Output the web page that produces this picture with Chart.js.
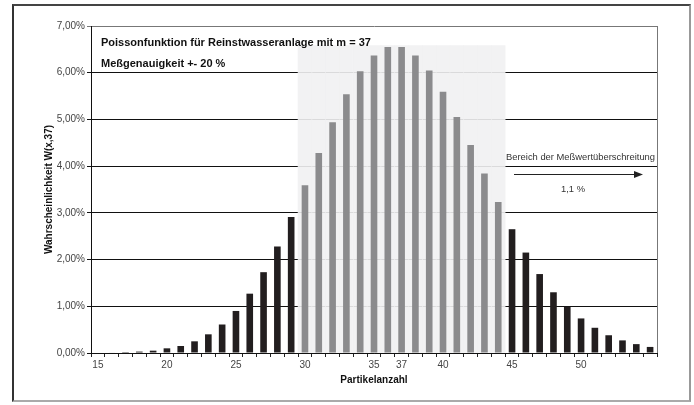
<!DOCTYPE html>
<html>
<head>
<meta charset="utf-8">
<script src="https://cdn.jsdelivr.net/npm/chart.js@4/dist/chart.umd.min.js"></script>
<style>
  body { margin: 0; background: #fff; }
  #wrap { position: relative; width: 694px; height: 405px; }
  #frame {
    position: absolute; left: 12px; top: 4px; width: 675px; height: 394px;
    border-left: 2px solid #333; border-top: 2px solid #444;
    border-right: 2px solid #999; border-bottom: 2px solid #aaa;
  }
  canvas { position: absolute; left: 0; top: 0; }
</style>
</head>
<body>
<div id="wrap">
  <div id="frame"></div>
  <canvas id="chart" width="694" height="405"></canvas>
</div>
<script>
// Partikelanzahl x
const categories = [15, 16, 17, 18, 19, 20, 21, 22, 23, 24, 25, 26, 27, 28, 29, 30, 31, 32, 33, 34,
  35, 36, 37, 38, 39, 40, 41, 42, 43, 44, 45, 46, 47, 48, 49, 50, 51, 52, 53, 54, 55];
// W(x,37) in %
const probabilities = [0.00, 0.01, 0.02, 0.03, 0.05, 0.10, 0.15, 0.25, 0.40, 0.61, 0.90, 1.27, 1.73, 2.28, 2.91,
  3.59, 4.28, 4.94, 5.54, 6.03, 6.37, 6.55, 6.55, 6.37, 6.05, 5.59, 5.05, 4.45, 3.84, 3.23,
  2.65, 2.15, 1.69, 1.30, 0.99, 0.74, 0.54, 0.38, 0.27, 0.19, 0.13];
// Meßgenauigkeit +- 20 %: Bereich 30 .. 44
const rangeFrom = 30;
const rangeTo = 44;
const rangeHeight = 6.58;
const xTickLabels = [15, 20, 25, 30, 35, 37, 40, 45, 50];
const yTicks = [0, 1, 2, 3, 4, 5, 6, 7];

const inRange = (x) => x >= rangeFrom && x <= rangeTo;
const rangeData = categories.map(x => inRange(x) ? rangeHeight : null);
const barColors = categories.map(x => inRange(x) ? '#8b8b8d' : '#221e1f');

const fontFamily = 'Arial, "Liberation Sans", sans-serif';

const textPlugin = {
  id: 'texte',
  afterDraw(chart) {
    const ctx = chart.ctx;
    const a = chart.chartArea;
    ctx.save();
    // rechter Rahmen des Diagrammbereichs
    ctx.strokeStyle = '#777';
    ctx.lineWidth = 1;
    ctx.beginPath();
    ctx.moveTo(Math.round(a.right) + 0.5, a.top);
    ctx.lineTo(Math.round(a.right) + 0.5, a.bottom);
    ctx.stroke();

    ctx.fillStyle = '#111';
    ctx.font = 'bold 11px ' + fontFamily;
    ctx.textBaseline = 'middle';
    ctx.textAlign = 'left';
    ctx.fillText('Poissonfunktion für Reinstwasseranlage mit m = 37', a.left + 10, a.top + 17);
    ctx.fillText('Meßgenauigkeit +- 20 %', a.left + 10, a.top + 38);

    ctx.fillStyle = '#333';
    ctx.font = '9.4px ' + fontFamily;
    ctx.fillText('Bereich der Meßwertüberschreitung', 506, 157);
    ctx.textAlign = 'center';
    ctx.fillText('1,1 %', 573, 189);

    // Pfeil
    ctx.strokeStyle = '#222';
    ctx.beginPath();
    ctx.moveTo(514, 174.5);
    ctx.lineTo(636, 174.5);
    ctx.stroke();
    ctx.fillStyle = '#222';
    ctx.beginPath();
    ctx.moveTo(643, 174.5);
    ctx.lineTo(634, 171);
    ctx.lineTo(634, 178);
    ctx.closePath();
    ctx.fill();
    ctx.restore();
  }
};

new Chart(document.getElementById('chart').getContext('2d'), {
  type: 'bar',
  data: {
    labels: categories,
    datasets: [
      {
        label: 'W(x,37)',
        data: probabilities,
        backgroundColor: barColors,
        borderWidth: 0,
        barPercentage: 0.48,
        categoryPercentage: 1,
        order: 1
      },
      {
        label: 'Bereich',
        data: rangeData,
        backgroundColor: 'rgba(241,241,242,0.9)',
        borderWidth: 0,
        barPercentage: 1,
        categoryPercentage: 1,
        order: 2
      }
    ]
  },
  options: {
    responsive: false,
    animation: false,
    layout: { padding: { left: 38, right: 37, top: 26, bottom: 0 } },
    plugins: { legend: { display: false }, tooltip: { enabled: false } },
    datasets: { bar: { grouped: false } },
    scales: {
      x: {
        offset: true,
        afterFit: (scale) => { scale.height = 52; },
        grid: { offset: true, drawOnChartArea: false, tickLength: 4, color: '#222' },
        border: { color: '#111', width: 1 },
        ticks: {
          autoSkip: false, maxRotation: 0, padding: 2,
          color: '#444', font: { family: fontFamily, size: 10 },
          callback: (v, i) => xTickLabels.includes(categories[i]) ? String(categories[i]) : ''
        },
        title: {
          display: true, text: 'Partikelanzahl', color: '#111',
          font: { family: fontFamily, size: 10, weight: 'bold' },
          padding: { top: 0, bottom: 19 }
        }
      },
      y: {
        min: yTicks[0],
        max: yTicks[yTicks.length - 1],
        afterFit: (scale) => { scale.width = 53; },
        afterBuildTicks: (scale) => { scale.ticks = yTicks.map(v => ({ value: v })); },
        grid: {
          color: (c) => c.tick && c.tick.value === 7 ? '#777' : '#111',
          tickLength: 4, lineWidth: 1
        },
        border: { color: '#111', width: 1 },
        ticks: {
          padding: 2, color: '#444', font: { family: fontFamily, size: 10 },
          callback: (v) => v.toFixed(2).replace('.', ',') + '%'
        },
        title: {
          display: true, text: 'Wahrscheinlichkeit W(x,37)', color: '#111',
          font: { family: fontFamily, size: 10, weight: 'bold' },
          padding: { top: 5, bottom: 0 }
        }
      }
    }
  },
  plugins: [textPlugin]
});
</script>
</body>
</html>
